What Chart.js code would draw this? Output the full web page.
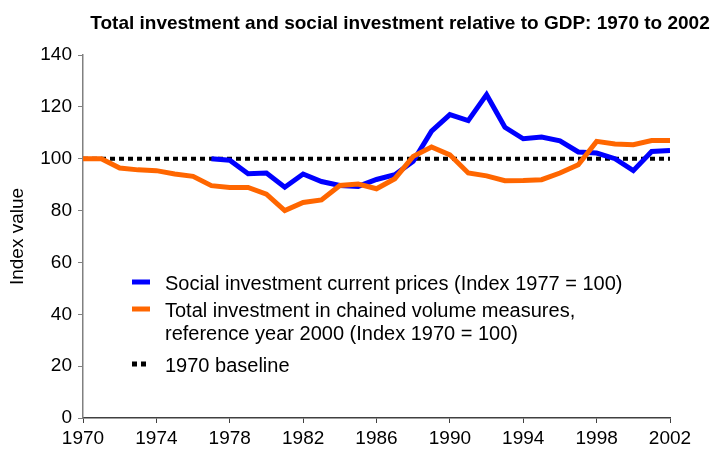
<!DOCTYPE html>
<html>
<head>
<meta charset="utf-8">
<script src="https://cdn.jsdelivr.net/npm/chart.js@4.4.0/dist/chart.umd.min.js"></script>
<style>
  html, body { margin: 0; padding: 0; background: #fff; }
  #wrap { width: 717px; height: 455px; }
</style>
</head>
<body>
<div id="wrap"><canvas id="investChart" width="717" height="455"></canvas></div>
<script>
const chartTitle = "Total investment and social investment relative to GDP: 1970 to 2002";
const yAxisTitle = "Index value";

const years = [1970, 1971, 1972, 1973, 1974, 1975, 1976, 1977, 1978, 1979, 1980,
  1981, 1982, 1983, 1984, 1985, 1986, 1987, 1988, 1989, 1990, 1991, 1992,
  1993, 1994, 1995, 1996, 1997, 1998, 1999, 2000, 2001, 2002];

// social investment only starts in 1977
const socialInvestment = [null, null, null, null, null, null, null, 100, 99.4, 94.2, 94.5,
  89, 94.1, 91.2, 89.7, 89.3, 92, 93.8, 99, 110.6, 117, 114.7, 124.7,
  112.1, 107.7, 108.4, 106.9, 102.6, 102.2, 100, 95.4, 102.8, 103.2];

const totalInvestment = [100, 100, 96.4, 95.7, 95.4, 94.1, 93.2, 89.6, 88.9, 88.9, 86.3,
  80, 83.1, 84.1, 89.7, 90.2, 88.4, 92.3, 100.9, 104.5, 101.5, 94.5, 93.4,
  91.5, 91.6, 91.9, 94.5, 97.7, 106.7, 105.7, 105.4, 107, 107];

const baseline = years.map(function () { return 100; });

const legendLabels = [
  ["Social investment current prices (Index 1977 = 100)"],
  ["Total investment in chained volume measures,", "reference year 2000 (Index 1970 = 100)"],
  ["1970 baseline"]
];

function toPoints(values) {
  return years.map(function (yr, i) { return { x: yr, y: values[i] }; });
}

// title + legend drawn by hand, the built-in legend can't wrap lines
const extrasPlugin = {
  id: "extras",
  afterDraw: function (chart) {
    const ctx = chart.ctx;
    ctx.save();
    ctx.fillStyle = "#000";
    ctx.font = "bold 19px 'Liberation Sans', Arial, sans-serif";
    ctx.textAlign = "center";
    ctx.textBaseline = "alphabetic";
    ctx.fillText(chartTitle, 400, 29);

    ctx.font = "20px 'Liberation Sans', Arial, sans-serif";
    ctx.textAlign = "left";
    ctx.textBaseline = "middle";
    const rows = [284, 311, 366];
    const colors = ["#0000ff", "#ff6600", "#000000"];
    for (let i = 0; i < legendLabels.length; i++) {
      const y = rows[i];
      ctx.strokeStyle = colors[i];
      ctx.lineWidth = 5;
      if (i === 2) ctx.setLineDash([5, 4]);
      else ctx.setLineDash([]);
      ctx.beginPath();
      ctx.moveTo(132, y - 2);
      ctx.lineTo(150, y - 2);
      ctx.stroke();
      ctx.setLineDash([]);
      for (let j = 0; j < legendLabels[i].length; j++) {
        ctx.fillText(legendLabels[i][j], 165, y + j * 23);
      }
    }
    ctx.restore();
  }
};

new Chart(document.getElementById("investChart"), {
  type: "line",
  data: {
    datasets: [
      {
        label: legendLabels[0][0],
        data: toPoints(socialInvestment),
        borderColor: "#0000ff",
        borderWidth: 5,
        pointRadius: 0,
        tension: 0,
        borderCapStyle: "butt",
        order: 2,
      },
      {
        label: legendLabels[1].join(" "),
        data: toPoints(totalInvestment),
        borderColor: "#ff6600",
        borderWidth: 5,
        pointRadius: 0,
        tension: 0,
        borderCapStyle: "butt",
        order: 1,
      },
      {
        label: legendLabels[2][0],
        data: toPoints(baseline),
        borderColor: "#000000",
        borderWidth: 4,
        borderDash: [5, 4],
        pointRadius: 0,
        tension: 0,
        order: 3,
      },
    ],
  },
  options: {
    responsive: false,
    animation: false,
    spanGaps: false,
    layout: { padding: { top: 55, right: 47, bottom: 0, left: 0 } },
    plugins: {
      legend: { display: false },
      title: { display: false },
      tooltip: { enabled: false },
    },
    scales: {
      x: {
        type: "linear",
        min: 1970,
        max: 2002,
        afterFit: function (s) { s.height = 37; },
        ticks: {
          stepSize: 4,
          color: "#000",
          padding: 4,
          maxRotation: 0,
          font: { family: "'Liberation Sans', Arial, sans-serif", size: 19 },
          callback: function (v) { return String(v); },
        },
        grid: { drawOnChartArea: false, drawTicks: true, tickLength: 5, color: "#404040" },
        border: { color: "#404040", width: 1.5 },
      },
      y: {
        min: 0,
        max: 140,
        afterFit: function (s) { s.width = 83; },
        ticks: {
          stepSize: 20,
          color: "#000",
          padding: 6,
          font: { family: "'Liberation Sans', Arial, sans-serif", size: 19 },
        },
        grid: { drawOnChartArea: false, drawTicks: true, tickLength: 5, color: "#808080" },
        border: { color: "#808080", width: 1.5 },
        title: {
          display: true,
          text: yAxisTitle,
          color: "#000",
          padding: { top: 6, bottom: 0 },
          font: { family: "'Liberation Sans', Arial, sans-serif", size: 19 },
        },
      },
    },
  },
  plugins: [extrasPlugin],
});
</script>
</body>
</html>
